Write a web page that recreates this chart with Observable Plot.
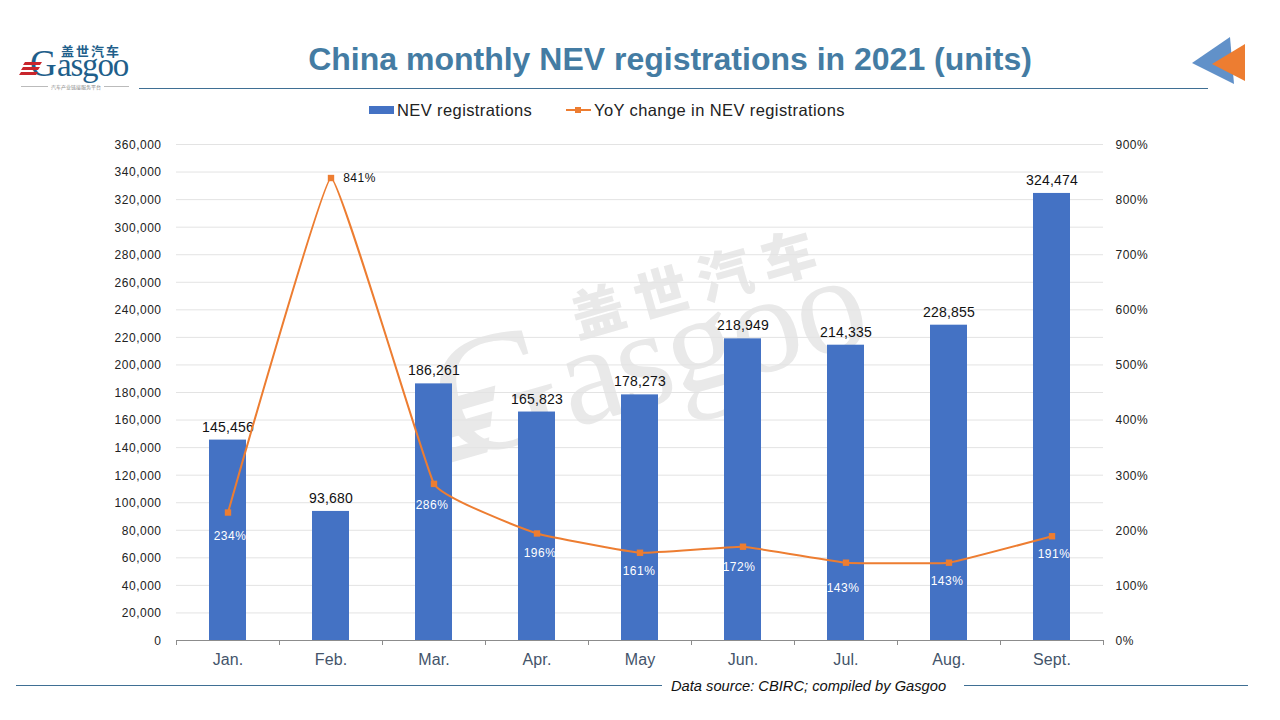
<!DOCTYPE html>
<html><head><meta charset="utf-8">
<script src="https://cdn.jsdelivr.net/npm/d3@7"></script>
<script src="https://cdn.jsdelivr.net/npm/@observablehq/plot@0.6"></script>
<style>
html,body{margin:0;padding:0;background:#fff;font-family:"Liberation Sans",Arial,sans-serif;width:1280px;height:720px;overflow:hidden}
#page{position:relative;width:1280px;height:720px}
#head{position:relative;height:130px}
#title{position:absolute;left:0;top:39px;width:1340px;text-align:center;font-size:32px;font-weight:bold;color:#447ca3;line-height:40px}
#rule{position:absolute;left:139px;top:88px;width:1069px;height:1px;background:#3f6f94}
#legend{position:absolute;top:100px;left:0;height:20px;width:1280px;font-size:16.5px;letter-spacing:.4px;color:#222;line-height:20px}
#legend span{position:absolute;top:0;white-space:nowrap}
#legend i{position:absolute;display:block}
#wm{position:absolute;left:0;top:0;width:1280px;height:720px;z-index:0;pointer-events:none}
#chart{position:relative;z-index:1;height:545px}
#chart svg{background:transparent!important;display:block}
#chart svg text{letter-spacing:.5px}
#chart svg .dl text{letter-spacing:.2px}
#chart svg [aria-label="x-axis tick label"] text{letter-spacing:.1px}
#foot{position:relative;z-index:1;height:45px}
#foot .l{position:absolute;top:10px;height:1px;background:#3f6f94}
#foot .t{position:absolute;left:671px;top:1px;font-size:14.7px;font-style:italic;color:#111;line-height:20px;white-space:nowrap}
</style></head>
<body><div id="page">
<svg id="wm" viewBox="0 0 1280 720">
  <g transform="translate(572,428) rotate(-16)" fill="#e9e9e9">
    <text x="-125" y="0" font-family="Liberation Serif" font-size="170">G</text>
    <text x="0" y="0" font-family="Liberation Serif" font-size="140" letter-spacing="-3">asgoo</text>
    <polygon points="-125,-62 -62,-62 -68,-48 -131,-48"/><polygon points="-135,-38 -72,-38 -78,-24 -141,-24"/><polygon points="-145,-14 -82,-14 -88,0 -151,0"/>
    <text x="30" y="-85" font-family="Noto Sans CJK SC" font-weight="900" font-size="54" letter-spacing="12">盖世汽车</text>
  </g>
</svg>
<div id="head">
  <svg style="position:absolute;left:15px;top:40px" width="125" height="55" viewBox="0 0 125 55">
    <text x="46" y="16" font-family="Noto Sans CJK SC" font-weight="700" font-size="13" letter-spacing="2" fill="#1f5f8b">盖世汽车</text>
    <text x="15" y="35.500" font-family="Liberation Serif" font-size="37" fill="#1f5f8b">G</text>
    <text x="42" y="35.500" font-family="Liberation Serif" font-size="33" letter-spacing="-1.2" fill="#1f5f8b">asgoo</text>
    <g fill="#c8252c"><polygon points="10,22 27,22 25,25 8,25"/><polygon points="8,27 25,27 23,30 6,30"/><polygon points="6,32 23,32 21,35 4,35"/></g>
    <g stroke="#bbb" stroke-width="1"><line x1="6" x2="33" y1="46.500" y2="46.500"/><line x1="89" x2="114" y1="46.500" y2="46.500"/></g>
    <text x="61" y="49" text-anchor="middle" font-family="Noto Sans CJK SC" font-size="5" fill="#888">汽车产业链接服务平台</text>
  </svg>
  <div id="title">China monthly NEV registrations in 2021 (units)</div>
  <div id="rule"></div>
  <svg style="position:absolute;left:1185px;top:30px" width="70" height="60" viewBox="1185 30 70 60">
    <polygon points="1192,63 1230,37 1234,84" fill="#6191c9"/>
    <polygon points="1212,64 1245,44 1245,81" fill="#ed7d31"/>
  </svg>
  <div id="legend">
    <i style="left:369px;top:6px;width:25px;height:8px;background:#4472c4"></i>
    <span style="left:397px">NEV registrations</span>
    <i style="left:566px;top:9px;width:25px;height:2px;background:#ed7d31"></i>
    <i style="left:575px;top:7px;width:6px;height:6px;background:#ed7d31"></i>
    <span style="left:594px">YoY change in NEV registrations</span>
  </div>
</div>
<div id="chart"></div>
<div id="foot">
  <div class="l" style="left:16px;width:646px"></div>
  <div class="t">Data source: CBIRC; compiled by Gasgoo</div>
  <div class="l" style="left:964px;width:284px"></div>
</div>
</div>
<script>
const months = ["Jan.","Feb.","Mar.","Apr.","May","Jun.","Jul.","Aug.","Sept."];
const registrations = [145456,93680,186261,165823,178273,218949,214335,228855,324474];
const yoyPercent = [234,841,286,196,161,172,143,143,191];
const leftTicks = d3.range(0,360001,20000);
const rightTicks = [0,100,200,300,400,500,600,700,800,900];

const pctToUnits = 400;
const rows = months.map((m,i)=>({month:m, units:registrations[i], pct:yoyPercent[i]}));
const pctY = d => d.pct*pctToUnits;
// [dx, dy] of each percentage label relative to its point
const pctOffsets = [[2,25],[28.5,1],[-2,22],[3,21],[-1,19],[-4,21],[-3,26],[-2,19],[2,19]];
const step = 927/9;

const pctLabels = rows.map((r,i)=>Plot.text([r],{
  x:"month", y:pctY, text:d=>d.pct+"%",
  dx:pctOffsets[i][0], dy:pctOffsets[i][1],
  fill:r.month==="Feb."?"#111":"#fff", fontSize:12
}));

const plot = Plot.plot({
  width:1280, height:545,
  marginTop:14, marginBottom:35, marginLeft:176, marginRight:177,
  style:{background:"transparent", fontFamily:'"Liberation Sans",Arial,sans-serif'},
  x:{domain:months, paddingInner:0.64, paddingOuter:0.32, align:0.5, label:null},
  y:{domain:[0,360000], label:null},
  marks:[
    Plot.ruleY(leftTicks.slice(1),{stroke:"#e3e3e3",strokeWidth:1}),
    Plot.barY(rows,{x:"month",y:"units",fill:"#4472c4"}),
    Plot.ruleY([0],{stroke:"#8c8c8c",strokeWidth:1}),
    Plot.ruleX(months,{x:d=>d,y1:0,y2:0,dx:-step/2,insetBottom:-5,stroke:"#8c8c8c"}),
    Plot.ruleX(months.slice(-1),{x:d=>d,y1:0,y2:0,dx:step/2,insetBottom:-5,stroke:"#8c8c8c"}),
    Plot.axisX({tickSize:0,tickPadding:13,fontSize:16,color:"#44546a",label:null}),
    Plot.axisY({ticks:leftTicks,tickSize:0,tickPadding:15,fontSize:12,dy:0.5,color:"#222",label:null,tickFormat:d3.format(",")}),
    Plot.axisY({anchor:"right",ticks:rightTicks.map(p=>p*pctToUnits),tickSize:0,tickPadding:12,fontSize:12,dy:0.5,color:"#222",label:null,tickFormat:v=>(v/pctToUnits)+"%",textAnchor:"start"}),
    Plot.text(rows,{x:"month",y:"units",text:d=>d3.format(",")(d.units),dy:-13,fontSize:14,fill:"#111",className:"dl"}),
    Plot.line(rows,{x:"month",y:pctY,dy:1,stroke:"#ed7d31",strokeWidth:2,curve:d3.curveCardinal.tension(0.75)}),
    Plot.dot(rows,{x:"month",y:pctY,dy:1,symbol:"square",r:3.6,fill:"#ed7d31",stroke:"none"}),
    ...pctLabels
  ]
});
document.getElementById("chart").appendChild(plot);
</script>
</body></html>
